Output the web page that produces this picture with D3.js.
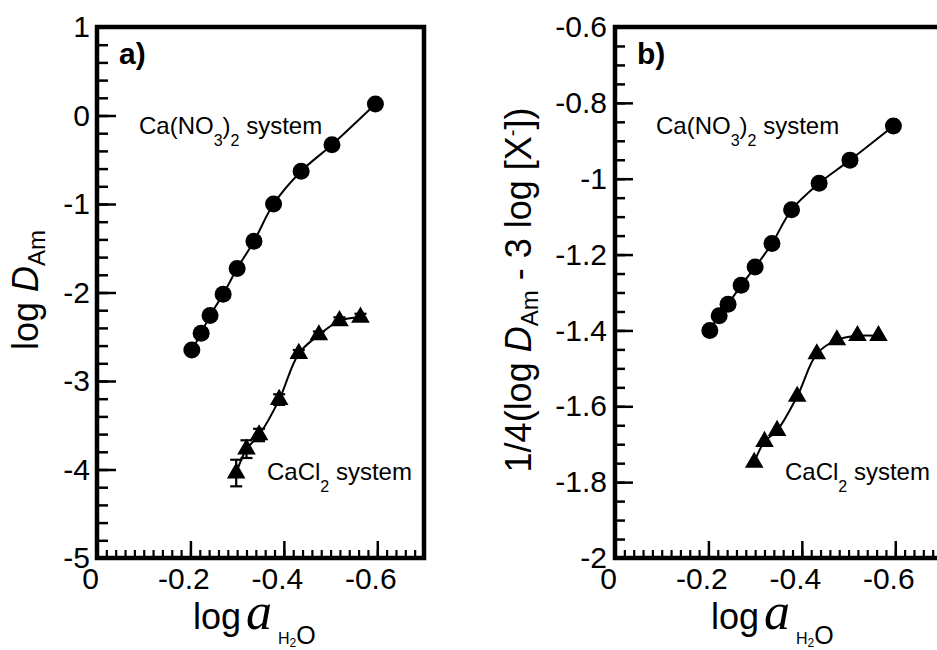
<!DOCTYPE html>
<html>
<head>
<meta charset="utf-8">
<script src="https://cdn.jsdelivr.net/npm/d3@7"></script>
<style>
  html, body { margin: 0; padding: 0; background: #fff; }
  svg { display: block; }
  text { font-family: "Liberation Sans", Arial, sans-serif; fill: #000; }
</style>
</head>
<body>
<svg id="chart" width="937" height="650"></svg>
<script>
// ---------- data ----------
const xTickValues = [0, -0.2, -0.4, -0.6];
const yTicksA = [1, 0, -1, -2, -3, -4, -5];
const yTicksB = [-0.6, -0.8, -1, -1.2, -1.4, -1.6, -1.8, -2];

// Ca(NO3)2 system (circles)
const nitrateX = [-0.203, -0.223, -0.242, -0.270, -0.300, -0.336, -0.378, -0.437, -0.503, -0.596];
const nitrateA = [-2.65, -2.46, -2.26, -2.02, -1.73, -1.42, -1.00, -0.63, -0.33, 0.13];
const nitrateB = [-1.400, -1.361, -1.331, -1.281, -1.233, -1.171, -1.082, -1.012, -0.951, -0.861];

// CaCl2 system (triangles)
const chlorideX = [-0.298, -0.320, -0.347, -0.390, -0.432, -0.475, -0.519, -0.564];
const chlorideA = [-4.04, -3.77, -3.61, -3.21, -2.69, -2.48, -2.32, -2.28];
const chlorideAErr = [0.15, 0.10, 0.07, 0.06, 0.04, 0.04, 0.04, 0.04];
const chlorideB = [-1.748, -1.693, -1.664, -1.574, -1.462, -1.425, -1.414, -1.414];

// ---------- layout ----------
const svg = d3.select("#chart");
const TOP = 27, BOTTOM = 558, WIDTH = 327;
const FONT = "Liberation Sans, Arial, sans-serif";

function panel(opts) {
  const L = opts.left, R = L + WIDTH;
  const x = d3.scaleLinear().domain([0, -0.7]).range([L, R]);
  const y = d3.scaleLinear().domain(opts.yDomain).range([BOTTOM, TOP]);
  const g = svg.append("g");

  // minor y ticks
  const yMinor = d3.range(Math.round((opts.yDomain[1] - opts.yDomain[0]) / opts.yMinorStep) + 1)
    .map(i => +(opts.yDomain[0] + i * opts.yMinorStep).toFixed(4));
  g.append("g").attr("transform", `translate(${L},0)`)
    .call(d3.axisLeft(y).tickValues(yMinor).tickSize(-opts.yMinorLen).tickFormat(""))
    .call(s => s.select(".domain").remove())
    .call(s => s.selectAll("line").attr("stroke", "#000").attr("stroke-width", 2.5));

  // major y ticks + labels
  g.append("g").attr("transform", `translate(${L},0)`)
    .call(d3.axisLeft(y).tickValues(opts.yTicks).tickSize(-opts.yMajorLen).tickPadding(opts.yPad)
      .tickFormat(d => String(+d.toFixed(2))))
    .call(s => s.select(".domain").remove())
    .call(s => s.selectAll("line").attr("stroke", "#000").attr("stroke-width", 2.5))
    .call(s => s.selectAll("text").attr("font-size", 30).attr("font-family", FONT).attr("fill", "#000"));

  // minor x ticks
  const xMinor = d3.range(0, 36).map(i => +(-i * 0.02).toFixed(3));
  g.append("g").attr("transform", `translate(0,${BOTTOM})`)
    .call(d3.axisBottom(x).tickValues(xMinor).tickSize(-8).tickFormat(""))
    .call(s => s.select(".domain").remove())
    .call(s => s.selectAll("line").attr("stroke", "#000").attr("stroke-width", 2.2));

  // major x ticks + labels
  g.append("g").attr("transform", `translate(0,${BOTTOM})`)
    .call(d3.axisBottom(x).tickValues(xTickValues).tickSize(-17).tickPadding(10)
      .tickFormat(d => String(d)))
    .call(s => s.select(".domain").remove())
    .call(s => s.selectAll("line").attr("stroke", "#000").attr("stroke-width", 2.5))
    .call(s => s.selectAll("text").attr("font-size", 30).attr("font-family", FONT)
      .attr("fill", "#000").attr("dx", -7));

  // frame
  g.append("rect").attr("x", L).attr("y", TOP).attr("width", WIDTH).attr("height", BOTTOM - TOP)
    .attr("fill", "none").attr("stroke", "#000").attr("stroke-width", 4.5);

  // curves
  const line = d3.line().x(d => x(d[0])).y(d => y(d[1])).curve(d3.curveCatmullRom.alpha(0.5));
  const nit = nitrateX.map((v, i) => [v, opts.nitrate[i]]);
  const chl = chlorideX.map((v, i) => [v, opts.chloride[i]]);
  g.append("path").attr("d", line(nit)).attr("fill", "none").attr("stroke", "#000").attr("stroke-width", 2);
  g.append("path").attr("d", line(chl)).attr("fill", "none").attr("stroke", "#000").attr("stroke-width", 2);

  // error bars
  if (opts.chlorideErr) {
    const eb = g.append("g").attr("stroke", "#000").attr("stroke-width", 2.2);
    chl.forEach((d, i) => {
      const e = opts.chlorideErr[i];
      const cx = x(d[0]), y1 = y(d[1] - e), y2 = y(d[1] + e);
      eb.append("line").attr("x1", cx).attr("x2", cx).attr("y1", y1).attr("y2", y2);
      eb.append("line").attr("x1", cx - 6).attr("x2", cx + 6).attr("y1", y1).attr("y2", y1);
      eb.append("line").attr("x1", cx - 6).attr("x2", cx + 6).attr("y1", y2).attr("y2", y2);
    });
  }

  // markers
  g.append("g").selectAll("circle").data(nit).join("circle")
    .attr("cx", d => x(d[0])).attr("cy", d => y(d[1])).attr("r", 8.5).attr("fill", "#000");
  const tri = d3.symbol().type(d3.symbolTriangle).size(150);
  g.append("g").selectAll("path").data(chl).join("path")
    .attr("transform", d => `translate(${x(d[0])},${y(d[1])})`).attr("d", tri).attr("fill", "#000");

  // panel letter
  g.append("text").attr("x", L + opts.letterDx).attr("y", 64).attr("font-size", 30)
    .attr("font-weight", "bold").text(opts.letter);

  // annotations
  const t1 = g.append("text").attr("x", L + opts.nitLabelDx).attr("y", 134).attr("font-size", 24);
  t1.append("tspan").text("Ca(NO");
  t1.append("tspan").attr("font-size", 16).attr("dy", 12).text("3");
  t1.append("tspan").attr("dy", -12).text(")");
  t1.append("tspan").attr("font-size", 16).attr("dy", 12).text("2");
  t1.append("tspan").attr("dy", -12).text(" system");

  const t2 = g.append("text").attr("x", L + opts.chlLabelDx).attr("y", 480).attr("font-size", 24);
  t2.append("tspan").text("CaCl");
  t2.append("tspan").attr("font-size", 16).attr("dy", 12).text("2");
  t2.append("tspan").attr("dy", -12).text(" system");

  // x title
  const xt = g.append("text").attr("x", L + 96).attr("y", 629);
  xt.append("tspan").attr("font-size", 36).text("log");
  xt.append("tspan").attr("dx", 5).attr("font-size", 52).attr("font-style", "italic")
    .attr("font-family", "Liberation Serif, Times New Roman, serif").text("a");
  xt.append("tspan").attr("dx", 6).attr("dy", 15).attr("font-size", 16).text("H");
  xt.append("tspan").attr("dy", 3).attr("font-size", 12).text("2");
  xt.append("tspan").attr("dy", -3).attr("font-size", 25).text("O");

  // y title
  const yt = g.append("text").attr("text-anchor", "middle")
    .attr("transform", `translate(${opts.yTitleX},290) rotate(-90)`).attr("font-size", 36);
  opts.yTitle(yt);

  return { x, y };
}

panel({
  left: 97, yDomain: [-5, 1], yTicks: yTicksA, yMinorStep: 0.2,
  yMajorLen: 19, yMinorLen: 11, yPad: 7,
  nitrate: nitrateA, chloride: chlorideA, chlorideErr: chlorideAErr,
  letter: "a)", letterDx: 22, nitLabelDx: 42, chlLabelDx: 170, yTitleX: 38,
  yTitle: t => {
    t.append("tspan").text("log ");
    t.append("tspan").attr("font-style", "italic").text("D");
    t.append("tspan").attr("font-size", 24).attr("dy", 7).text("Am");
  }
});

panel({
  left: 615, yDomain: [-2, -0.6], yTicks: yTicksB, yMinorStep: 0.05,
  yMajorLen: 18, yMinorLen: 10, yPad: 8,
  nitrate: nitrateB, chloride: chlorideB, chlorideErr: null,
  letter: "b)", letterDx: 22, nitLabelDx: 41, chlLabelDx: 170, yTitleX: 531,
  yTitle: t => {
    t.append("tspan").text("1/4(log ");
    t.append("tspan").attr("font-style", "italic").text("D");
    t.append("tspan").attr("font-size", 24).attr("dy", 7).text("Am");
    t.append("tspan").attr("dy", -7).text(" - 3 log [X");
    t.append("tspan").attr("font-size", 20).attr("dy", -12).text("-");
    t.append("tspan").attr("dy", 12).text("])");
  }
});
</script>
</body>
</html>
